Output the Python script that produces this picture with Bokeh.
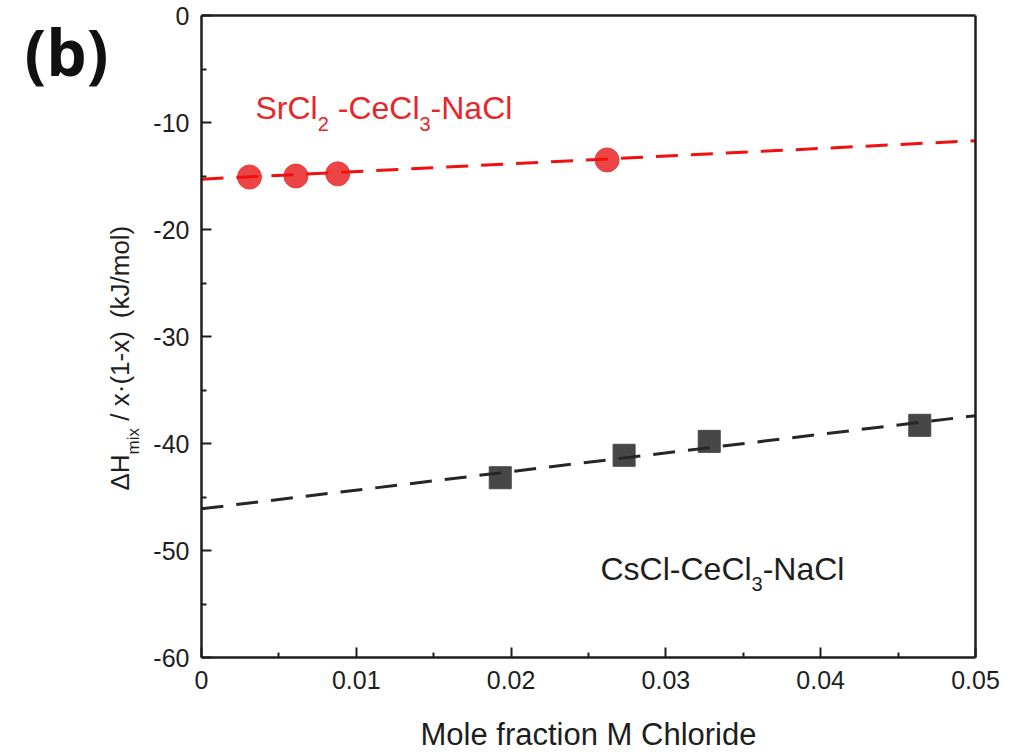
import math

from bokeh.plotting import figure
from bokeh.models import Label, Range1d, FixedTicker, LinearAxis
from bokeh.embed import file_html
from bokeh.resources import INLINE

# ---- data -------------------------------------------------------------
sr_x = [0.0031, 0.0061, 0.0088, 0.0262]
sr_y = [-15.1, -15.0, -14.8, -13.5]

cs_x = [0.0193, 0.0273, 0.0328, 0.0464]
cs_y = [-43.2, -41.1, -39.8, -38.3]

fit_x = [0.0, 0.05]
sr_fit_y = [-15.3, -11.7]
cs_fit_y = [-46.1, -37.4]

x_ticks = [0.0, 0.01, 0.02, 0.03, 0.04, 0.05]
x_tick_labels = ["0", "0.01", "0.02", "0.03", "0.04", "0.05"]
x_minor = [0.005, 0.015, 0.025, 0.035, 0.045]

y_ticks = [0, -10, -20, -30, -40, -50, -60]
y_tick_labels = ["0", "-10", "-20", "-30", "-40", "-50", "-60"]
y_minor = [-5, -15, -25, -35, -45, -55]

X_LIM = (0.0, 0.05)
Y_LIM = (-60.0, 0.0)

# ---- page geometry ----------------------------------------------------
# The drawing area fills the whole canvas; the axes box sits inside it.
W, H = 1023, 752
BOX_L, BOX_R, BOX_T, BOX_B = 201, 975, 15, 657
BOX_W = BOX_R - BOX_L
BOX_H = BOX_B - BOX_T

FONT = "Liberation Sans"
INK = "#1e1e1e"
RED = "#e8262a"

# labels anchored "alphabetic" come out about a third of an em low;
# this lifts them back onto the intended baseline
BASE_LIFT = 0.33


def dx(px):
    """canvas pixel column -> data x"""
    return X_LIM[0] + (px - BOX_L) / BOX_W * (X_LIM[1] - X_LIM[0])


def dy(py):
    """canvas pixel row -> data y"""
    return Y_LIM[1] - (py - BOX_T) / BOX_H * (Y_LIM[1] - Y_LIM[0])


# Arial / Liberation Sans advance widths (per 1000 em)
ADV = {
    "S": 667, "r": 333, "C": 722, "l": 222, " ": 278, "-": 333, "e": 556,
    "N": 722, "a": 556, "s": 500, "2": 556, "3": 556, "Δ": 667, "H": 722,
    "m": 833, "i": 222, "x": 500, "/": 278, "·": 278, "(": 333, ")": 333,
    "1": 556, "k": 500, "J": 500, "o": 556,
}


def text_width(s, size):
    return sum(ADV.get(c, 556) for c in s) / 1000.0 * size


p = figure(
    width=W, height=H,
    x_range=Range1d(dx(0), dx(W)), y_range=Range1d(dy(H), dy(0)),
    output_backend="svg", toolbar_location=None,
    x_axis_location=None, y_axis_location=None,
    min_border=0, min_border_left=0, min_border_right=0,
    min_border_top=0, min_border_bottom=0,
    background_fill_color="white", border_fill_color="white",
)
p.grid.visible = False
p.outline_line_color = None


def style_axis(ax):
    ax.axis_line_color = INK
    ax.axis_line_width = 2.5
    ax.major_tick_line_color = INK
    ax.major_tick_line_width = 2
    ax.minor_tick_line_color = INK
    ax.minor_tick_line_width = 2
    ax.major_tick_in = 10
    ax.major_tick_out = 0
    ax.minor_tick_in = 5
    ax.minor_tick_out = 0
    ax.major_label_text_font = FONT
    ax.major_label_text_font_size = "25px"
    ax.major_label_text_color = INK


x_axis = LinearAxis(
    fixed_location=Y_LIM[0], bounds=X_LIM,
    ticker=FixedTicker(ticks=x_ticks, minor_ticks=x_minor),
    major_label_overrides={t: s for t, s in zip(x_ticks, x_tick_labels)},
    major_label_standoff=13,
)
y_axis = LinearAxis(
    fixed_location=X_LIM[0], bounds=Y_LIM,
    ticker=FixedTicker(ticks=y_ticks, minor_ticks=y_minor),
    major_label_overrides={t: s for t, s in zip(y_ticks, y_tick_labels)},
    major_label_standoff=12,
)
# plain closing lines of the box (top and right)
top_axis = LinearAxis(fixed_location=Y_LIM[1], bounds=X_LIM,
                      ticker=FixedTicker(ticks=[]))
right_axis = LinearAxis(fixed_location=X_LIM[1], bounds=Y_LIM,
                        ticker=FixedTicker(ticks=[]))

for ax in (x_axis, y_axis, top_axis, right_axis):
    style_axis(ax)

p.add_layout(x_axis, "below")
p.add_layout(y_axis, "left")
p.add_layout(top_axis, "above")
p.add_layout(right_axis, "right")

# ---- series -----------------------------------------------------------
p.scatter(sr_x, sr_y, marker="circle", size=24,
          fill_color="#ec3b3b", line_color="#ec3b3b", fill_alpha=0.95)
p.line(fit_x, sr_fit_y, line_color="#f01010", line_width=3, line_dash="22 13")

p.scatter(cs_x, cs_y, marker="square", size=22,
          fill_color="#474747", line_color="#474747")
p.line(fit_x, cs_fit_y, line_color="#262626", line_width=3, line_dash="22 13")


# ---- text -------------------------------------------------------------
def put_text(txt, x_px, base_px, size, color, font=FONT, style="normal",
             align="left", vertical=False):
    lift = BASE_LIFT * size
    if vertical:
        lx, ly, angle = x_px - lift, base_px, math.pi / 2
    else:
        lx, ly, angle = x_px, base_px - lift, 0
    p.add_layout(Label(
        x=dx(lx), y=dy(ly), text=txt, angle=angle,
        text_font=font, text_font_style=style, text_font_size=f"{size}px",
        text_color=color, text_align=align, text_baseline="alphabetic",
    ))


def rich_text(pieces, x_px, base_px, color, vertical=False):
    """pieces: (text, font size px, baseline drop px); a piece that is
    only spaces just advances the pen."""
    pos = 0.0
    for txt, size, drop in pieces:
        if txt.strip():
            if vertical:
                put_text(txt, x_px + drop, base_px - pos, size, color,
                         vertical=True)
            else:
                put_text(txt, x_px + pos, base_px + drop, size, color)
        pos += text_width(txt, size)


rich_text([("SrCl", 32, 0), ("2", 20, 12), (" ", 32, 0), ("-CeCl", 32, 0),
           ("3", 20, 12), ("-NaCl", 32, 0)], 255, 118, RED)

rich_text([("CsCl-CeCl", 32, 0), ("3", 20, 11), ("-NaCl", 32, 0)],
          600, 579, INK)

rich_text([("ΔH", 26, 0), ("mix", 17, 11), (" ", 26, 0), ("/", 26, 0),
           (" ", 26, 0), ("x·(1-x)", 26, 0), ("  ", 26, 0),
           ("(kJ/mol)", 26, 0)],
          128, 490, INK, vertical=True)

# x axis title
put_text("Mole fraction M Chloride", (BOX_L + BOX_R) / 2, 744, 31, INK,
         align="center")

# panel tag
put_text("(b)", 24, 72, 64, "#111111", font="Open Sans", style="bold")

open("out.html", "w").write(file_html(p, INLINE))
